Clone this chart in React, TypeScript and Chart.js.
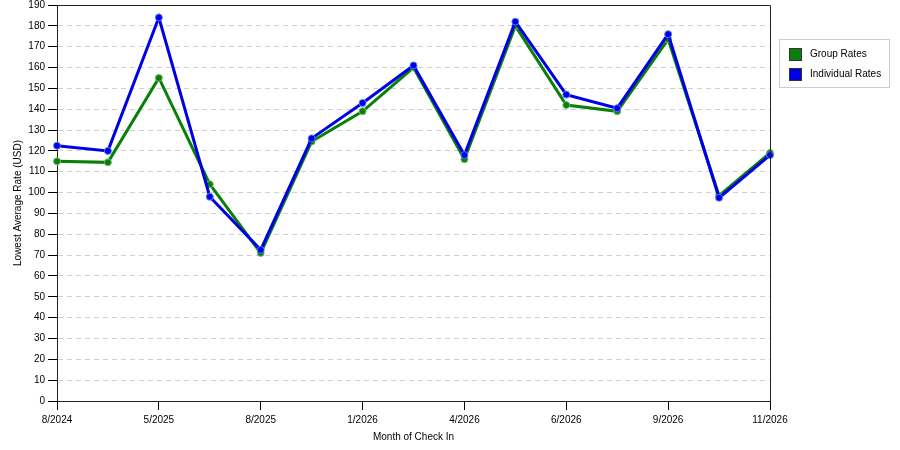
import React, { useEffect, useRef } from 'react';
import { Chart, registerables } from 'chart.js';

Chart.register(...registerables);

// months of check in (only every other one is labelled on the axis)
const months = ['8/2024', '', '5/2025', '', '8/2025', '', '1/2026', '', '4/2026', '', '6/2026', '', '9/2026', '', '11/2026'];
const groupRates = [115, 114.5, 155, 104, 71, 124.5, 139, 160, 116, 180, 142, 139, 173.5, 98.5, 119];
const individualRates = [122.5, 120, 184, 98, 72.5, 126, 143, 161, 118, 182, 147, 140.5, 176, 97.5, 118];
const seriesNames = ['Group Rates', 'Individual Rates'];
const seriesColors = ['#0a800a', '#0000e6'];

const FONT = 'Tahoma, "Liberation Sans", Arial, sans-serif';

// box around the plot + legend on the right
const framePlugin = {
  id: 'frame',
  afterDraw(chart) {
    const { ctx, chartArea } = chart;
    ctx.save();
    ctx.strokeStyle = '#222';
    ctx.lineWidth = 1;
    ctx.beginPath();
    ctx.moveTo(chartArea.left, chartArea.top + 0.5);
    ctx.lineTo(chartArea.right + 0.5, chartArea.top + 0.5);
    ctx.lineTo(chartArea.right + 0.5, chartArea.bottom);
    ctx.stroke();

    // legend
    ctx.strokeStyle = '#ccc';
    ctx.strokeRect(779.5, 39.5, 110, 48);
    ctx.font = '10px ' + FONT;
    ctx.textBaseline = 'middle';
    seriesNames.forEach((name, i) => {
      const y = 48 + i * 20;
      ctx.fillStyle = seriesColors[i];
      ctx.fillRect(789, y, 12, 12);
      ctx.strokeStyle = '#333';
      ctx.strokeRect(789.5, y + 0.5, 12, 12);
      ctx.fillStyle = '#000';
      ctx.fillText(name, 810, y + 6.5);
    });
    ctx.restore();
  },
};

export default function App() {
  const chartRef = useRef(null);
  const chartInstance = useRef(null);

  useEffect(() => {
    if (!chartRef.current) return;
    if (chartInstance.current) chartInstance.current.destroy();

    Chart.defaults.font.family = FONT;
    Chart.defaults.font.size = 10;
    Chart.defaults.color = '#000';

    const makeSet = (i, values, order) => ({
      label: seriesNames[i],
      data: values,
      borderColor: seriesColors[i],
      backgroundColor: seriesColors[i],
      borderWidth: 3,
      pointRadius: 3.5,
      pointBorderWidth: 1,
      pointBorderColor: i === 0 ? 'rgba(120,190,120,0.9)' : 'rgba(90,130,255,0.9)',
      pointBackgroundColor: seriesColors[i],
      tension: 0,
      order,
    });

    chartInstance.current = new Chart(chartRef.current, {
      type: 'line',
      data: {
        labels: months,
        datasets: [makeSet(0, groupRates, 2), makeSet(1, individualRates, 1)],
      },
      options: {
        animation: false,
        responsive: false,
        devicePixelRatio: 1,
        layout: { padding: { top: 5, right: 130, bottom: 0, left: 0 } },
        plugins: {
          legend: { display: false },
          tooltip: { enabled: false },
        },
        scales: {
          x: {
            offset: false,
            afterFit: (scale) => { scale.height = 49; },
            grid: { display: true, drawOnChartArea: false, drawTicks: true, tickLength: 9, tickColor: '#000' },
            border: { display: true, color: '#222' },
            ticks: {
              autoSkip: false,
              maxRotation: 0,
              padding: 4,
              callback: (value, index) => (months[index] ? months[index] : null),
            },
            title: { display: true, text: 'Month of Check In', padding: { top: 0, bottom: 7 } },
          },
          y: {
            min: 0,
            max: 190,
            afterFit: (scale) => {
              scale.width = 57;
              scale.paddingTop = 0;
              scale.paddingBottom = 0;
            },
            grid: { color: '#d0d0d0', tickColor: '#000', tickLength: 9 },
            border: { display: true, color: '#222', dash: [5, 4] },
            ticks: { stepSize: 10, padding: 3 },
            title: { display: true, text: 'Lowest Average Rate (USD)', padding: { top: 12, bottom: 0 } },
          },
        },
      },
      plugins: [framePlugin],
    });

    return () => {
      if (chartInstance.current) {
        chartInstance.current.destroy();
        chartInstance.current = null;
      }
    };
  }, []);

  return (
    <div style={{ position: 'fixed', left: 0, top: 0, width: 900, height: 450, background: '#fff' }}>
      <canvas ref={chartRef} width={900} height={450}></canvas>
    </div>
  );
}
